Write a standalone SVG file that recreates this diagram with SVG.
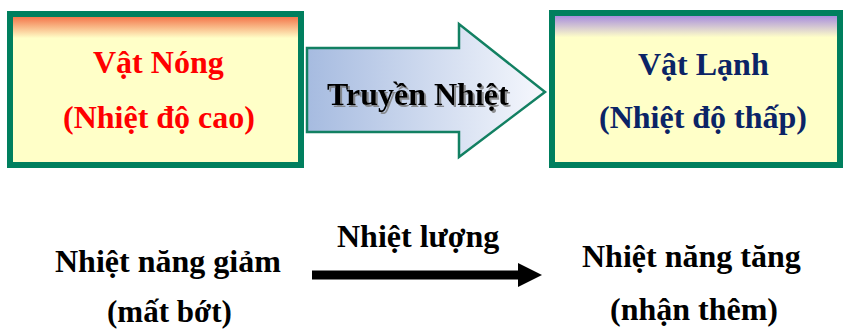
<svg xmlns="http://www.w3.org/2000/svg" width="845" height="333" viewBox="0 0 845 333" font-family="Liberation Serif, Times New Roman, serif">
  <defs>
    <linearGradient id="hotTop" x1="0" y1="0" x2="0" y2="1">
      <stop offset="0" stop-color="#F2643A"/>
      <stop offset="0.16" stop-color="#FFFFC8"/>
      <stop offset="1" stop-color="#FFFFC8"/>
    </linearGradient>
    <linearGradient id="coldTop" x1="0" y1="0" x2="0" y2="1">
      <stop offset="0" stop-color="#9C7EE0"/>
      <stop offset="0.16" stop-color="#FFFFC8"/>
      <stop offset="1" stop-color="#FFFFC8"/>
    </linearGradient>
    <linearGradient id="transferFill" x1="0" y1="0" x2="1" y2="0">
      <stop offset="0" stop-color="#A6BBE0"/>
      <stop offset="1" stop-color="#F6F8FD"/>
    </linearGradient>
    <filter id="shadow" x="-10%" y="-30%" width="120%" height="160%">
      <feDropShadow dx="2" dy="2" stdDeviation="0.6" flood-color="#777" flood-opacity="0.8"/>
    </filter>
    <marker id="head" markerWidth="24" markerHeight="24" refX="0" refY="12" markerUnits="userSpaceOnUse" orient="auto">
      <path d="M0,0 L24,12 L0,24 Z" fill="#000"/>
    </marker>
  </defs>

  <rect width="845" height="333" fill="#fff"/>

  <!-- hot body -->
  <g id="vat-nong">
    <rect x="10" y="14" width="291" height="151" fill="url(#hotTop)" stroke="#007F5E" stroke-width="6"/>
    <text x="93" y="73" font-family="Liberation Serif" font-weight="bold" font-size="32" fill="#FF0000">Vật Nóng</text>
    <text x="63" y="128" font-family="Liberation Serif" font-weight="bold" font-size="32" fill="#FF0000">(Nhiệt độ cao)</text>
  </g>

  <!-- heat transfer block arrow -->
  <g id="truyen-nhiet">
    <path d="M307,48 L459,48 L459,24 L545,92 L459,157 L459,132 L307,132 Z" fill="url(#transferFill)" stroke="#128062" stroke-width="2.5"/>
    <text x="327" y="105" font-family="Liberation Serif" font-weight="bold" font-size="32" fill="#000" filter="url(#shadow)">Truyền Nhiệt</text>
  </g>

  <!-- cold body -->
  <g id="vat-lanh">
    <rect x="552" y="13" width="288" height="152" fill="url(#coldTop)" stroke="#007F5E" stroke-width="6"/>
    <text x="638" y="75" font-family="Liberation Serif" font-weight="bold" font-size="32" fill="#0B2466">Vật Lạnh</text>
    <text x="599" y="128" font-family="Liberation Serif" font-weight="bold" font-size="32" fill="#0B2466">(Nhiệt độ thấp)</text>
  </g>

  <!-- internal energy change labels -->
  <g id="nhiet-nang-giam">
    <text x="55" y="272" font-family="Liberation Serif" font-weight="bold" font-size="32" fill="#000">Nhiệt năng giảm</text>
    <text x="107" y="322" font-family="Liberation Serif" font-weight="bold" font-size="31" fill="#000">(mất bớt)</text>
  </g>
  <g id="nhiet-nang-tang">
    <text x="582" y="267" font-family="Liberation Serif" font-weight="bold" font-size="32" fill="#000">Nhiệt năng tăng</text>
    <text x="610" y="320" font-family="Liberation Serif" font-weight="bold" font-size="32" fill="#000">(nhận thêm)</text>
  </g>

  <!-- connectors -->
  <g id="connectors">
    <line x1="312" y1="275" x2="518" y2="275" stroke="#000" stroke-width="9" marker-end="url(#head)"/>
    <text x="337" y="247" font-family="Liberation Serif" font-weight="bold" font-size="32" fill="#000">Nhiệt lượng</text>
  </g>
</svg>
